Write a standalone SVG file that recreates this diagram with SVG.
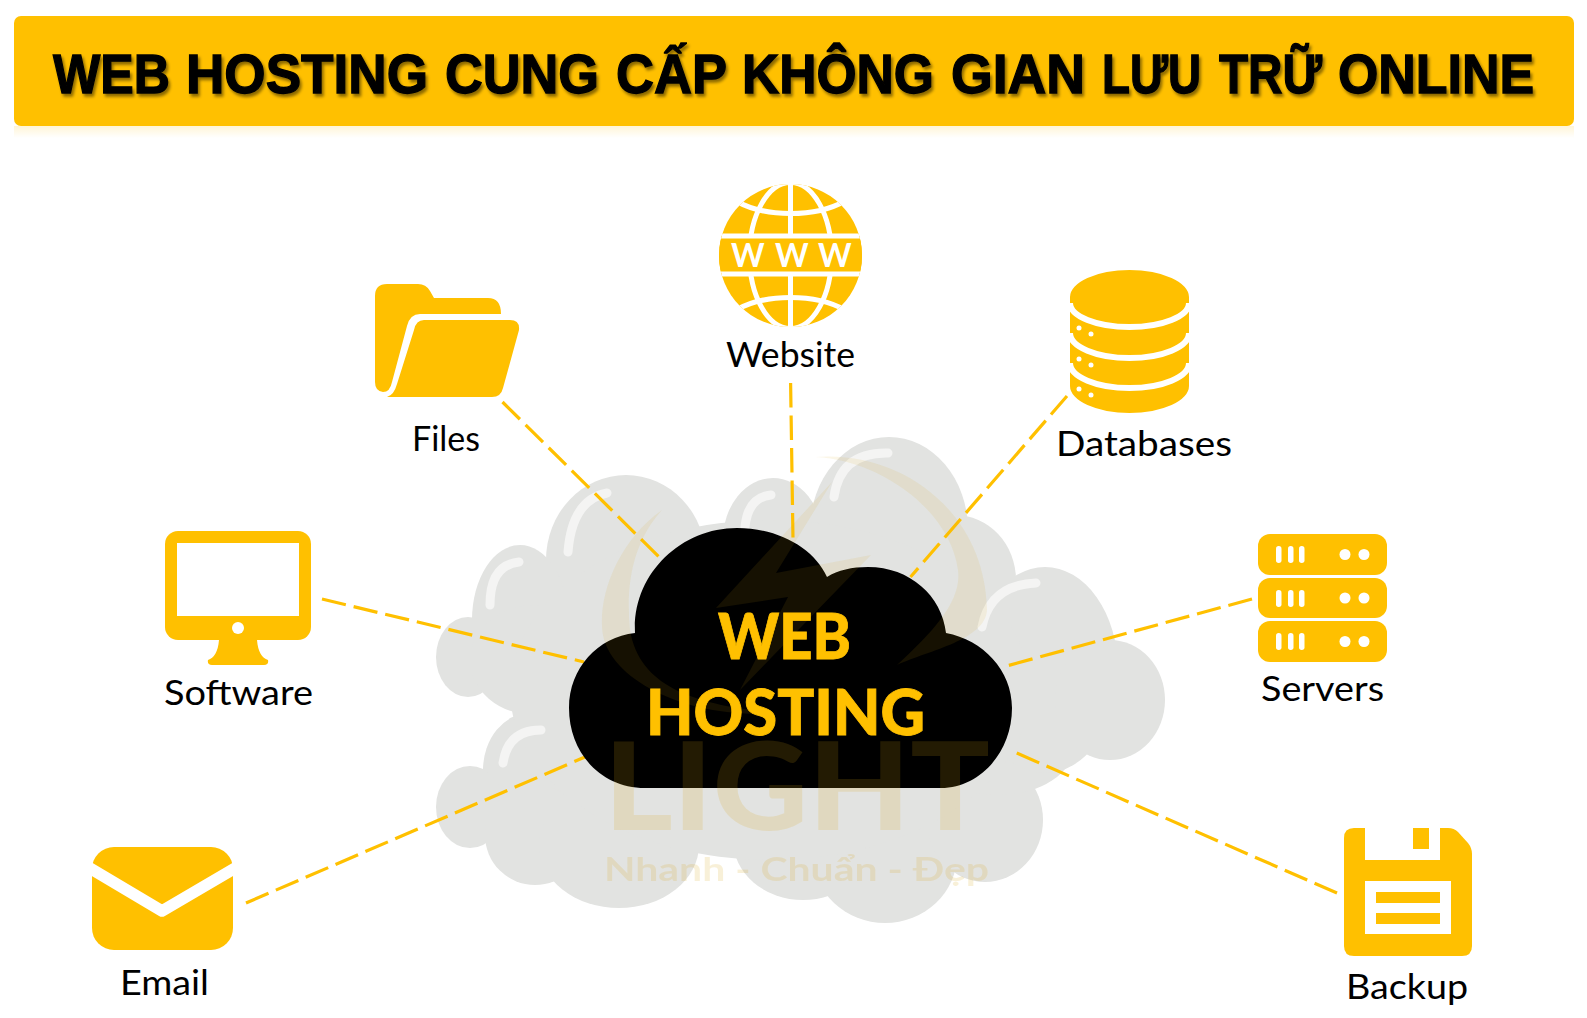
<svg xmlns="http://www.w3.org/2000/svg" width="1587" height="1018" viewBox="0 0 1587 1018">
<style>
.y{fill:#FFC000}
.w{fill:#fff}
.l{font-family:"Lato","Noto Sans",sans-serif;font-size:35px;fill:#000;text-anchor:start}
.c{stroke:#FFC000;stroke-width:3.2;stroke-dasharray:24.5 8;fill:none}
.h{stroke:#F4F4F3;stroke-width:9;stroke-linecap:round;fill:none}
.gl{stroke:#fff;stroke-width:5;fill:none}
.m{fill:#D9A514;opacity:.16}
.r{fill:#D9A514;opacity:.1}
.ct{font-family:"Lato","Liberation Sans",sans-serif;font-weight:900;font-size:62px;fill:#FFC000;stroke:#FFC000;stroke-width:.8}
</style>
<defs>
<linearGradient id="sh" x1="0" y1="0" x2="0" y2="1"><stop offset="0" stop-color="#FFC000" stop-opacity=".16"/><stop offset="1" stop-color="#FFC000" stop-opacity="0"/></linearGradient>
<filter id="ds" x="-2%" y="-20%" width="104%" height="150%"><feDropShadow dx="2" dy="3" stdDeviation="1.6" flood-color="#000" flood-opacity=".45"/></filter>
<clipPath id="gc"><circle cx="790.5" cy="255.5" r="71.5"/></clipPath>
</defs>
<rect width="1587" height="1018" fill="#fff"/>
<g id="title">
<rect x="14" y="126" width="1560" height="12" fill="url(#sh)"/>
<rect class="y" x="14" y="16" width="1560" height="110" rx="7"/>
<text y="92.500" font-family="'Liberation Sans',Arial,sans-serif" font-weight="700" font-size="56" fill="#000" stroke="#000" stroke-width="1.300" filter="url(#ds)" xml:space="preserve"><tspan x="53" textLength="117" lengthAdjust="spacingAndGlyphs">WEB</tspan> <tspan x="186" textLength="242" lengthAdjust="spacingAndGlyphs">HOSTING</tspan> <tspan x="445" textLength="154" lengthAdjust="spacingAndGlyphs">CUNG</tspan> <tspan x="616" textLength="110" lengthAdjust="spacingAndGlyphs">CẤP</tspan> <tspan x="742" textLength="192" lengthAdjust="spacingAndGlyphs">KHÔNG</tspan> <tspan x="951" textLength="134" lengthAdjust="spacingAndGlyphs">GIAN</tspan> <tspan x="1102" textLength="99" lengthAdjust="spacingAndGlyphs">LƯU</tspan> <tspan x="1219" textLength="103" lengthAdjust="spacingAndGlyphs">TRỮ</tspan> <tspan x="1338" textLength="196" lengthAdjust="spacingAndGlyphs">ONLINE</tspan></text>
</g>
<g id="bg-cloud" fill="#E2E3E1">
<ellipse cx="889" cy="530" rx="79" ry="93"/><ellipse cx="626" cy="560" rx="80" ry="85"/><ellipse cx="773" cy="540" rx="50" ry="62"/>
<ellipse cx="520" cy="620" rx="48" ry="75"/><ellipse cx="468" cy="657" rx="32" ry="40"/><ellipse cx="535" cy="660" rx="65" ry="55"/>
<ellipse cx="530" cy="770" rx="47" ry="57"/><ellipse cx="470" cy="807" rx="34" ry="41"/><ellipse cx="535" cy="835" rx="50" ry="50"/>
<ellipse cx="619" cy="845" rx="80" ry="63"/><ellipse cx="803" cy="840" rx="70" ry="60"/><ellipse cx="885" cy="855" rx="72" ry="68"/>
<ellipse cx="985" cy="820" rx="58" ry="62"/><ellipse cx="1000" cy="745" rx="74" ry="50"/><ellipse cx="1045" cy="670" rx="73" ry="103"/>
<ellipse cx="1110" cy="700" rx="55" ry="60"/><ellipse cx="955" cy="580" rx="61" ry="65"/>
<ellipse cx="770" cy="690" rx="260" ry="170"/>
</g>
<g id="bg-highlights">
<path class="h" d="M607 493Q572 500 568 552"/><path class="h" d="M519 562Q490 565 490 605"/><path class="h" d="M888 453Q840 452 834 497"/>
<path class="h" d="M771 495Q748 497 745 527"/><path class="h" d="M1036 583Q990 585 982 627"/><path class="h" d="M541 730Q508 730 503 763"/>
</g>
<g id="connectors">
<line class="c" x1="502.5" y1="402" x2="660" y2="558"/>
<line class="c" x1="790.6" y1="383" x2="793" y2="540"/>
<line class="c" x1="1067" y1="396" x2="910.5" y2="577"/>
<line class="c" x1="322" y1="599" x2="584" y2="662"/>
<line class="c" x1="246" y1="903" x2="585" y2="757"/>
<line class="c" x1="1252" y1="599" x2="1006.5" y2="666"/>
<line class="c" x1="1337" y1="893" x2="1012" y2="751"/>
</g>
<g id="web-hosting">
<path fill="#000" d="M645 788C600 788 569 752 569 708C569 668 598 637 635 633C632 575 680 528 737 528C778 528 814 548 827 577C838 570 852 567 868 567C910 567 942 596 946 633C983 640 1012 670 1012 708C1012 752 980 788 941 788Z"/>
</g>
<g id="watermark">
<path class="r" d="M662 510C620 540 600 590 602 627C604 680 690 720 776 713C700 705 640 690 630 630C625 580 635 540 662 510Z"/>
<path class="r" d="M815 457C900 450 985 510 987 610C985 640 930 650 897 665C935 630 962 600 958 570C950 510 880 460 815 457Z"/>
<path class="r" d="M832 482L716 608L788 597L740 690L871 555L776 573Z"/>
<text class="m" x="604" y="830" font-family="Lato,sans-serif" font-weight="900" font-size="122" textLength="386" lengthAdjust="spacingAndGlyphs">LIGHT</text>
<text class="m" x="604" y="881" font-family="Lato,sans-serif" font-weight="700" font-size="33" textLength="385" lengthAdjust="spacingAndGlyphs">Nhanh - Chuẩn - Đẹp</text>
</g>
<g id="web-hosting-label">
<text class="ct" x="718" y="659" textLength="133" lengthAdjust="spacingAndGlyphs">WEB</text>
<text class="ct" x="646" y="735" textLength="279" lengthAdjust="spacingAndGlyphs">HOSTING</text>
</g>
<g id="website">
<circle class="y" cx="790.5" cy="255.5" r="71.5"/>
<g clip-path="url(#gc)">
<path class="gl" d="M790.500 184V327"/>
<ellipse class="gl" cx="790.500" cy="255.500" rx="41" ry="73"/>
<path class="gl" d="M736 201A75 40 0 0 0 845 201M736 310A75 40 0 0 1 845 310"/>
<rect class="y" x="715" y="236" width="152" height="38"/>
<path class="gl" d="M715 236H867M715 274H867"/>
</g>
<text y="267" x="731 775 818" font-family="Lato,sans-serif" font-weight="700" font-size="32" fill="#fff">WWW</text>
<text class="l" x="726" y="367" textLength="129" lengthAdjust="spacingAndGlyphs">Website</text>
</g>
<g id="files">
<path class="y" d="M375 296Q375 284 387 284H418Q426 284 430 291L434 298H488Q501 298 501 314H420Q410 314 407 326L392 382Q390 392 383 392Q375 391 375 382Z"/>
<path class="y" d="M424 320H510Q520 320 519 330L503 388Q501 397 492 397H387Q394 395 397 384L414 330Q416 320 424 320Z"/>
<text class="l" x="412" y="450.500" textLength="68" lengthAdjust="spacingAndGlyphs">Files</text>
</g>
<g id="databases">
<path class="y" d="M1070 297A59.500 27 0 0 1 1189 297V386A59.500 27 0 0 1 1070 386Z"/>
<path d="M1070 303A59.500 24 0 0 0 1189 303M1070 333A59.500 25 0 0 0 1189 333M1070 363A59.500 25 0 0 0 1189 363" stroke="#fff" stroke-width="6" fill="none"/>
<g class="w"><circle cx="1079" cy="328" r="2.500"/><circle cx="1091" cy="334" r="2.500"/><circle cx="1079" cy="359" r="2.500"/><circle cx="1091" cy="365" r="2.500"/><circle cx="1079" cy="389" r="2.500"/><circle cx="1091" cy="395" r="2.500"/></g>
<text class="l" x="1056" y="455.500" textLength="176" lengthAdjust="spacingAndGlyphs">Databases</text>
</g>
<g id="software">
<path class="y" d="M219 640H257C258 652 262 658 268 660Q269 665 264 665H212Q207 665 208 660C214 658 218 652 219 640Z"/>
<rect class="y" x="165" y="531" width="146" height="109" rx="13"/>
<rect class="w" x="177" y="543" width="122" height="73"/>
<circle class="w" cx="238" cy="628" r="6"/>
<text class="l" x="164" y="704.500" textLength="149" lengthAdjust="spacingAndGlyphs">Software</text>
</g>
<g id="email">
<rect class="y" x="92" y="847" width="141" height="103" rx="22"/>
<path d="M88 867L162 911L237 867" stroke="#fff" stroke-width="11.500" fill="none" stroke-linejoin="round"/>
<text class="l" x="120" y="995" textLength="89" lengthAdjust="spacingAndGlyphs">Email</text>
</g>
<g id="servers">
<rect class="y" x="1258" y="534" width="129" height="41" rx="12"/><rect class="y" x="1258" y="578" width="129" height="40" rx="12"/><rect class="y" x="1258" y="621" width="129" height="41" rx="12"/>
<g class="w">
<rect x="1276" y="546" width="5.500" height="17" rx="2.700"/><rect x="1288" y="546" width="5.500" height="17" rx="2.700"/><rect x="1299" y="546" width="5.500" height="17" rx="2.700"/><circle cx="1345" cy="554.500" r="5.500"/><circle cx="1364" cy="554.500" r="5.500"/>
<rect x="1276" y="590" width="5.500" height="17" rx="2.700"/><rect x="1288" y="590" width="5.500" height="17" rx="2.700"/><rect x="1299" y="590" width="5.500" height="17" rx="2.700"/><circle cx="1345" cy="598" r="5.500"/><circle cx="1364" cy="598" r="5.500"/>
<rect x="1276" y="633" width="5.500" height="17" rx="2.700"/><rect x="1288" y="633" width="5.500" height="17" rx="2.700"/><rect x="1299" y="633" width="5.500" height="17" rx="2.700"/><circle cx="1345" cy="641.500" r="5.500"/><circle cx="1364" cy="641.500" r="5.500"/>
</g>
<text class="l" x="1261" y="700.500" textLength="123" lengthAdjust="spacingAndGlyphs">Servers</text>
</g>
<g id="backup">
<path class="y" d="M1354 828H1448Q1454 828 1458 832L1468 843Q1472 848 1472 854V946Q1472 956 1462 956H1354Q1344 956 1344 946V838Q1344 828 1354 828Z"/>
<rect class="w" x="1365" y="826" width="75" height="34"/>
<rect class="y" x="1413" y="828" width="16" height="21"/>
<rect class="w" x="1365" y="881" width="86" height="53"/>
<rect class="y" x="1376" y="892" width="64" height="11"/><rect class="y" x="1376" y="913" width="64" height="11"/>
<text class="l" x="1346" y="998.500" textLength="122" lengthAdjust="spacingAndGlyphs">Backup</text>
</g>
</svg>
